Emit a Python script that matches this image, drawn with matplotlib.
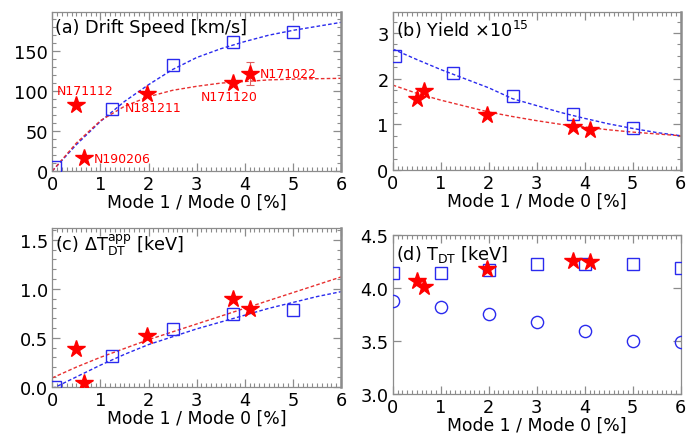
import matplotlib
matplotlib.use("Agg")
import matplotlib.pyplot as plt
from matplotlib.ticker import MultipleLocator, FormatStrFormatter

# ---- experimental shots ----
shot_names = ["N171112", "N190206", "N181211", "N171120", "N171022"]
shot_ratio = [0.50, 0.65, 1.97, 3.75, 4.10]
shot_drift = [83, 16, 96, 110, 122]
shot_drift_err = [0, 0, 0, 0, 14]
shot_yield = [1.56, 1.74, 1.21, 0.94, 0.88]
shot_dT = [0.385, 0.04, 0.515, 0.895, 0.79]
shot_Tdt = [4.06, 4.01, 4.18, 4.255, 4.24]

# ---- simulations ----
sim_ratio = [0.05, 1.25, 2.5, 3.75, 5.0]
sim_drift = [5, 78, 133, 162, 174]
sim_yield = [2.50, 2.12, 1.63, 1.23, 0.91]
sim_dT = [0.0, 0.31, 0.59, 0.74, 0.78]

scan_ratio = [0, 1, 2, 3, 4, 5, 6]
scan_Tdt_app = [4.135, 4.135, 4.17, 4.22, 4.22, 4.22, 4.19]
scan_Tdt_therm = [3.88, 3.82, 3.75, 3.68, 3.59, 3.50, 3.49]

# ---- fitted trends ----
fit_ratio = [0, 0.5, 1, 1.5, 2, 2.5, 3, 3.5, 4, 4.5, 5, 5.5, 6]
fit_drift_sim = [0, 33, 62, 87, 108, 127, 142, 153, 162, 170, 176, 181, 186]
fit_drift_shot = [0, 35, 63, 81, 93, 101, 106, 110, 112, 114, 115, 115.5, 116]
fit_yield_sim = [2.65, 2.42, 2.20, 2.00, 1.80, 1.56, 1.41, 1.26, 1.13, 1.01, 0.91, 0.82, 0.75]
fit_yield_shot = [1.86, 1.68, 1.53, 1.40, 1.27, 1.17, 1.08, 1.00, 0.94, 0.88, 0.83, 0.79, 0.75]
fit_dT_sim = [-0.02, 0.10, 0.22, 0.33, 0.43, 0.51, 0.59, 0.66, 0.73, 0.80, 0.86, 0.92, 0.97]
fit_dT_shot = [0.09, 0.20, 0.30, 0.39, 0.48, 0.56, 0.64, 0.72, 0.80, 0.88, 0.96, 1.04, 1.12]

BLUE = "#2a2aee"
RED = "#ff0000"
FRAME = "#8c8c8c"
DASH = (0, (2.6, 1.6))

fig = plt.figure(figsize=(6.98, 4.35), dpi=100)
W, H = 698.0, 435.0


def make_axes(x0, x1, ytop, ybot):
    return fig.add_axes([x0 / W, 1 - ybot / H, (x1 - x0) / W, (ybot - ytop) / H])


ax_a = make_axes(52.3, 341.0, 13.0, 172.0)
ax_b = make_axes(392.7, 680.7, 13.0, 171.0)
ax_c = make_axes(52.3, 341.0, 229.0, 387.7)
ax_d = make_axes(392.7, 680.7, 235.7, 395.0)


def style(ax, ymajor, yminor, fmt, thick_right=True):
    ax.set_xlim(0, 6)
    ax.xaxis.set_major_locator(MultipleLocator(1))
    ax.xaxis.set_minor_locator(MultipleLocator(0.1))
    ax.yaxis.set_major_locator(MultipleLocator(ymajor))
    if yminor:
        ax.yaxis.set_minor_locator(MultipleLocator(yminor))
    else:
        ax.yaxis.set_minor_locator(plt.NullLocator())
    ax.yaxis.set_major_formatter(FormatStrFormatter(fmt))
    for s in ax.spines.values():
        s.set_color(FRAME)
        s.set_linewidth(0.9)
    if thick_right:
        ax.spines["right"].set_linewidth(1.8)
    ax.tick_params(which="both", direction="in", top=True, right=True,
                   color=FRAME, labelsize=12.8, labelcolor="black")
    ax.tick_params(which="major", length=6, width=0.9, pad=3)
    ax.tick_params(which="minor", length=3, width=0.8)
    ax.set_xlabel("Mode 1 / Mode 0 [%]", fontsize=12.4, labelpad=0)


star_kw = dict(marker="*", ms=13, color=RED, ls="none", zorder=4)
sq_kw = dict(marker="s", ms=9, mfc="none", mec=BLUE, mew=1.0, ls="none", zorder=3)

# (a) drift speed
ax = ax_a
ax.plot(fit_ratio, fit_drift_sim, color=BLUE, lw=1, ls=DASH)
ax.plot(fit_ratio, fit_drift_shot, color="#e83030", lw=1, ls=DASH)
ax.plot(sim_ratio, sim_drift, **sq_kw)
for x, y, e in zip(shot_ratio, shot_drift, shot_drift_err):
    if e:
        ax.errorbar(x, y, yerr=e, fmt="none", ecolor="#e06060", elinewidth=0.8,
                    capsize=3, capthick=0.8, zorder=3)
ax.plot(shot_ratio, shot_drift, **star_kw)
label_pos = {"N171112": (0.10, 101), "N190206": (0.87, 16), "N181211": (1.50, 79),
             "N171120": (3.09, 93), "N171022": (4.32, 122)}
for name in shot_names:
    lx, ly = label_pos[name]
    ax.text(lx, ly, name, color=RED, fontsize=9.0, ha="left", va="center", zorder=5)
ax.set_ylim(0, 199)
style(ax, 50, 10, "%d")
ax.text(0.01, 0.965, "(a) Drift Speed [km/s]", transform=ax.transAxes,
        fontsize=12.7, va="top", ha="left")

# (b) yield
ax = ax_b
ax.plot(fit_ratio, fit_yield_sim, color=BLUE, lw=1, ls=DASH)
ax.plot(fit_ratio, fit_yield_shot, color="#e83030", lw=1, ls=DASH)
ax.plot(sim_ratio, sim_yield, **sq_kw)
ax.plot(shot_ratio, shot_yield, **star_kw)
ax.set_ylim(0, 3.46)
style(ax, 1, 0.25, "%d")
ax.text(0.01, 0.965, r"(b) Yield $\times$10$^{15}$", transform=ax.transAxes,
        fontsize=12.7, va="top", ha="left")

# (c) apparent temperature increase
ax = ax_c
ax.plot(fit_ratio, fit_dT_sim, color=BLUE, lw=1, ls=DASH)
ax.plot(fit_ratio, fit_dT_shot, color="#e83030", lw=1, ls=DASH)
ax.plot(sim_ratio, sim_dT, **sq_kw)
ax.plot(shot_ratio, shot_dT, **star_kw)
ax.set_ylim(0, 1.62)
style(ax, 0.5, 0.1, "%.1f")
ax.text(0.01, 0.975, r"(c) $\Delta\mathrm{T}^{\mathrm{app}}_{\mathrm{DT}}$ [keV]",
        transform=ax.transAxes, fontsize=12.7, va="top", ha="left")

# (d) ion temperature
ax = ax_d
ax.plot(scan_ratio, scan_Tdt_app, **sq_kw)
ax.plot(scan_ratio, scan_Tdt_therm, marker="o", ms=8.8, mfc="none", mec=BLUE,
        mew=1.0, ls="none", zorder=3)
ax.plot(shot_ratio, shot_Tdt, **star_kw)
ax.set_ylim(3.0, 4.5)
style(ax, 0.5, None, "%.1f", thick_right=False)
ax.text(0.01, 0.945, r"(d) T$_{\mathrm{DT}}$ [keV]", transform=ax.transAxes,
        fontsize=12.7, va="top", ha="left")

fig.savefig("out.png", dpi=100)
